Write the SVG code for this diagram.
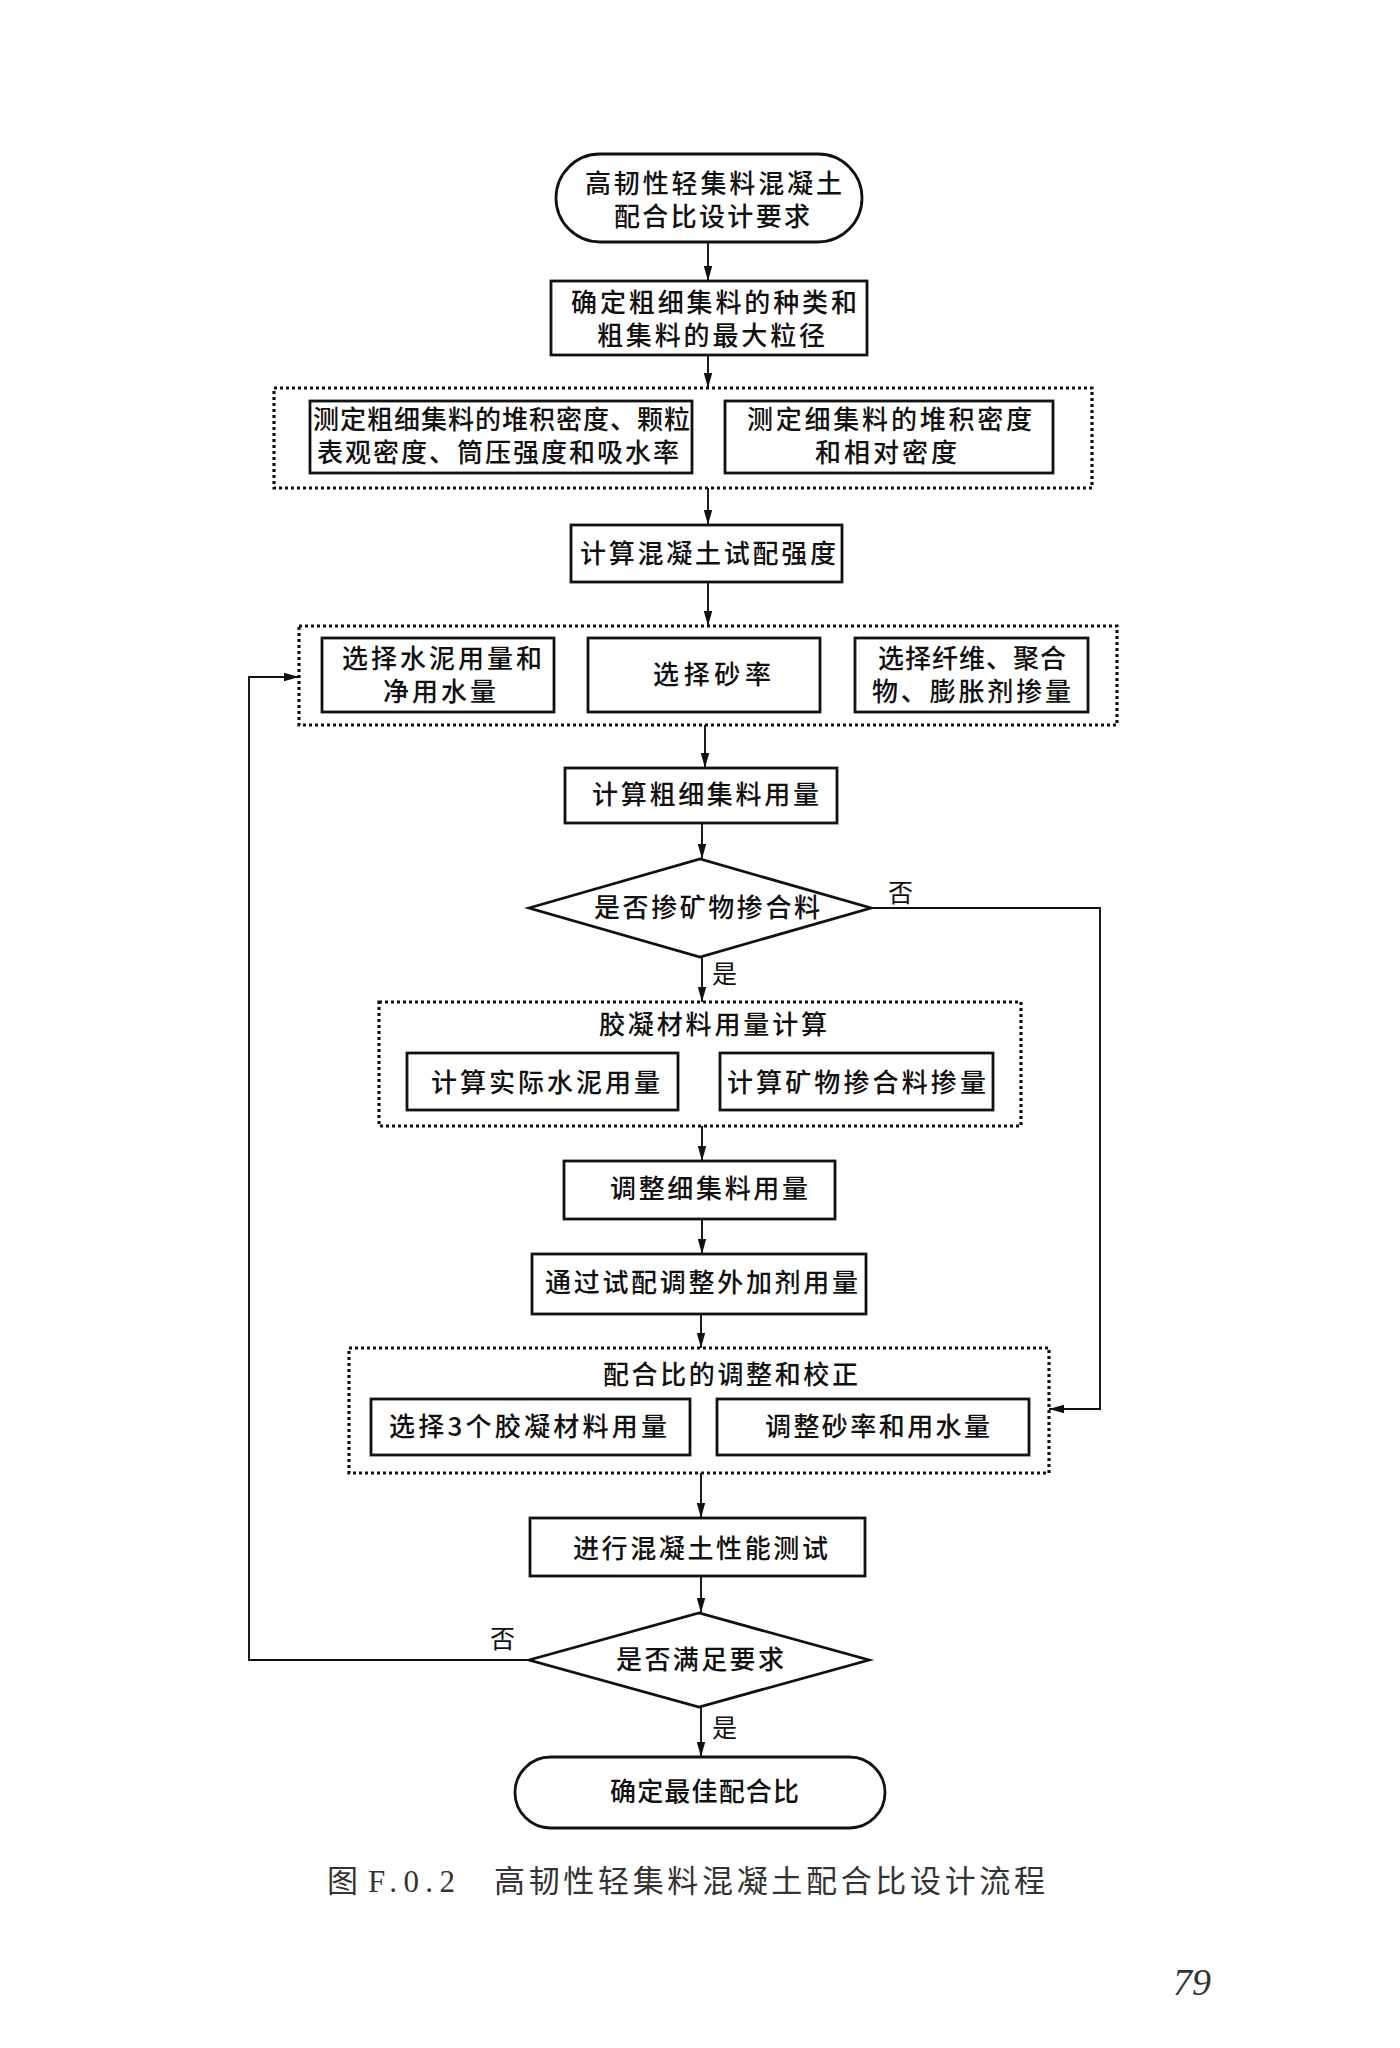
<svg xmlns="http://www.w3.org/2000/svg" width="1400" height="2048" viewBox="0 0 1400 2048">
<defs>
<marker id="arr" markerUnits="userSpaceOnUse" markerWidth="16" markerHeight="10" refX="15" refY="5" orient="auto">
<path d="M0,0.8 L15,5 L0,9.2 z" fill="#111"/>
</marker>
<style>
.bx{fill:#fff;stroke:#111;stroke-width:2.8}
.grp{fill:none;stroke:#111;stroke-width:3.2;stroke-dasharray:3 3}
.ln{fill:none;stroke:#111;stroke-width:1.9}
.t{font-family:"Noto Sans CJK SC","Noto Sans CJK JP",sans-serif;font-size:26px;font-weight:500;fill:#111}
.lb{font-family:"Noto Sans CJK SC",sans-serif;font-size:25px;fill:#111}
.cap{font-family:"Noto Sans CJK SC",sans-serif;font-size:31px;fill:#333}
</style>
</defs>
<rect width="1400" height="2048" fill="#fff"/>

<g id="connectors">
<line class="ln" x1="708" y1="242" x2="708" y2="281" marker-end="url(#arr)"/>
<line class="ln" x1="708" y1="355" x2="708" y2="388" marker-end="url(#arr)"/>
<line class="ln" x1="708" y1="488" x2="708" y2="525" marker-end="url(#arr)"/>
<line class="ln" x1="708" y1="582" x2="708" y2="626" marker-end="url(#arr)"/>
<line class="ln" x1="705" y1="725" x2="705" y2="768" marker-end="url(#arr)"/>
<line class="ln" x1="702" y1="823" x2="702" y2="859" marker-end="url(#arr)"/>
<line class="ln" x1="702" y1="957" x2="702" y2="1002" marker-end="url(#arr)"/>
<line class="ln" x1="702" y1="1126" x2="702" y2="1161" marker-end="url(#arr)"/>
<line class="ln" x1="702" y1="1219" x2="702" y2="1254" marker-end="url(#arr)"/>
<line class="ln" x1="701" y1="1314" x2="701" y2="1348" marker-end="url(#arr)"/>
<line class="ln" x1="701" y1="1473" x2="701" y2="1518" marker-end="url(#arr)"/>
<line class="ln" x1="701" y1="1576" x2="701" y2="1613" marker-end="url(#arr)"/>
<line class="ln" x1="701" y1="1707" x2="701" y2="1757" marker-end="url(#arr)"/>
<polyline class="ln" points="872,908 1100,908 1100,1409 1049,1409" marker-end="url(#arr)"/>
<polyline class="ln" points="529,1660 249,1660 249,677 299,677" marker-end="url(#arr)"/>
<text class="lb" x="888" y="902">否</text>
<text class="lb" x="712" y="983">是</text>
<text class="lb" x="490" y="1648">否</text>
<text class="lb" x="712" y="1737">是</text>
</g>

<g id="n1">
<rect class="bx" x="556" y="154" width="306" height="88" rx="44"/>
<text class="t" x="585" y="193" textLength="257" lengthAdjust="spacing">高韧性轻集料混凝土</text>
<text class="t" x="614" y="226" textLength="196" lengthAdjust="spacing">配合比设计要求</text>
</g>

<g id="n2">
<rect class="bx" x="551" y="281" width="316" height="74"/>
<text class="t" x="571" y="312" textLength="286" lengthAdjust="spacing">确定粗细集料的种类和</text>
<text class="t" x="597" y="345" textLength="228" lengthAdjust="spacing">粗集料的最大粒径</text>
</g>

<g id="g3">
<rect class="grp" x="274" y="388" width="818" height="100"/>
<g id="n3a">
<rect class="bx" x="310" y="401" width="382" height="72"/>
<text class="t" x="313" y="429" textLength="377" lengthAdjust="spacing">测定粗细集料的堆积密度、颗粒</text>
<text class="t" x="317" y="462" textLength="362" lengthAdjust="spacing">表观密度、筒压强度和吸水率</text>
</g>
<g id="n3b">
<rect class="bx" x="725" y="401" width="328" height="72"/>
<text class="t" x="747" y="429" textLength="285" lengthAdjust="spacing">测定细集料的堆积密度</text>
<text class="t" x="815" y="462" textLength="142" lengthAdjust="spacing">和相对密度</text>
</g>
</g>

<g id="n4">
<rect class="bx" x="571" y="525" width="271" height="57"/>
<text class="t" x="580" y="563" textLength="256" lengthAdjust="spacing">计算混凝土试配强度</text>
</g>

<g id="g5">
<rect class="grp" x="299" y="626" width="818" height="99"/>
<g id="n5a">
<rect class="bx" x="322" y="638" width="232" height="74"/>
<text class="t" x="342" y="668" textLength="200" lengthAdjust="spacing">选择水泥用量和</text>
<text class="t" x="383" y="701" textLength="113" lengthAdjust="spacing">净用水量</text>
</g>
<g id="n5b">
<rect class="bx" x="588" y="638" width="232" height="74"/>
<text class="t" x="653" y="684" textLength="118" lengthAdjust="spacing">选择砂率</text>
</g>
<g id="n5c">
<rect class="bx" x="855" y="638" width="233" height="74"/>
<text class="t" x="878" y="668" textLength="188" lengthAdjust="spacing">选择纤维、聚合</text>
<text class="t" x="872" y="701" textLength="199" lengthAdjust="spacing">物、膨胀剂掺量</text>
</g>
</g>

<g id="n6">
<rect class="bx" x="565" y="768" width="272" height="55"/>
<text class="t" x="592" y="804" textLength="227" lengthAdjust="spacing">计算粗细集料用量</text>
</g>

<g id="d1">
<polygon class="bx" points="529,908 700,859 871,908 700,957"/>
<text class="t" x="594" y="917" textLength="226" lengthAdjust="spacing">是否掺矿物掺合料</text>
</g>

<g id="g8">
<rect class="grp" x="379" y="1002" width="642" height="124"/>
<text class="t" x="599" y="1034" textLength="228" lengthAdjust="spacing">胶凝材料用量计算</text>
<g id="n8a">
<rect class="bx" x="407" y="1053" width="271" height="57"/>
<text class="t" x="431" y="1092" textLength="229" lengthAdjust="spacing">计算实际水泥用量</text>
</g>
<g id="n8b">
<rect class="bx" x="720" y="1053" width="273" height="57"/>
<text class="t" x="727" y="1092" textLength="259" lengthAdjust="spacing">计算矿物掺合料掺量</text>
</g>
</g>

<g id="n9">
<rect class="bx" x="564" y="1161" width="271" height="58"/>
<text class="t" x="610" y="1198" textLength="198" lengthAdjust="spacing">调整细集料用量</text>
</g>

<g id="n10">
<rect class="bx" x="532" y="1254" width="334" height="60"/>
<text class="t" x="545" y="1292" textLength="313" lengthAdjust="spacing">通过试配调整外加剂用量</text>
</g>

<g id="g11">
<rect class="grp" x="349" y="1348" width="700" height="125"/>
<text class="t" x="603" y="1384" textLength="255" lengthAdjust="spacing">配合比的调整和校正</text>
<g id="n11a">
<rect class="bx" x="371" y="1399" width="319" height="56"/>
<text class="t" x="389" y="1436" textLength="278" lengthAdjust="spacing">选择3个胶凝材料用量</text>
</g>
<g id="n11b">
<rect class="bx" x="717" y="1399" width="312" height="56"/>
<text class="t" x="765" y="1436" textLength="225" lengthAdjust="spacing">调整砂率和用水量</text>
</g>
</g>

<g id="n12">
<rect class="bx" x="530" y="1518" width="335" height="58"/>
<text class="t" x="573" y="1558" textLength="255" lengthAdjust="spacing">进行混凝土性能测试</text>
</g>

<g id="d2">
<polygon class="bx" points="529,1660 699,1613 869,1660 699,1707"/>
<text class="t" x="616" y="1669" textLength="168" lengthAdjust="spacing">是否满足要求</text>
</g>

<g id="n14">
<rect class="bx" x="515" y="1757" width="370" height="71" rx="35.5"/>
<text class="t" x="610" y="1801" textLength="189" lengthAdjust="spacing">确定最佳配合比</text>
</g>

<g id="caption">
<text class="cap" x="327" y="1892">图</text>
<text class="cap" x="368" y="1892" textLength="87" lengthAdjust="spacing" style="font-family:'Liberation Serif',serif;font-size:31px">F.0.2</text>
<text class="cap" x="494" y="1892" textLength="551" lengthAdjust="spacing">高韧性轻集料混凝土配合比设计流程</text>
</g>
<text x="1173" y="1995" style="font-family:'Liberation Serif',serif;font-style:italic;font-size:38px;fill:#333">79</text>
</svg>
